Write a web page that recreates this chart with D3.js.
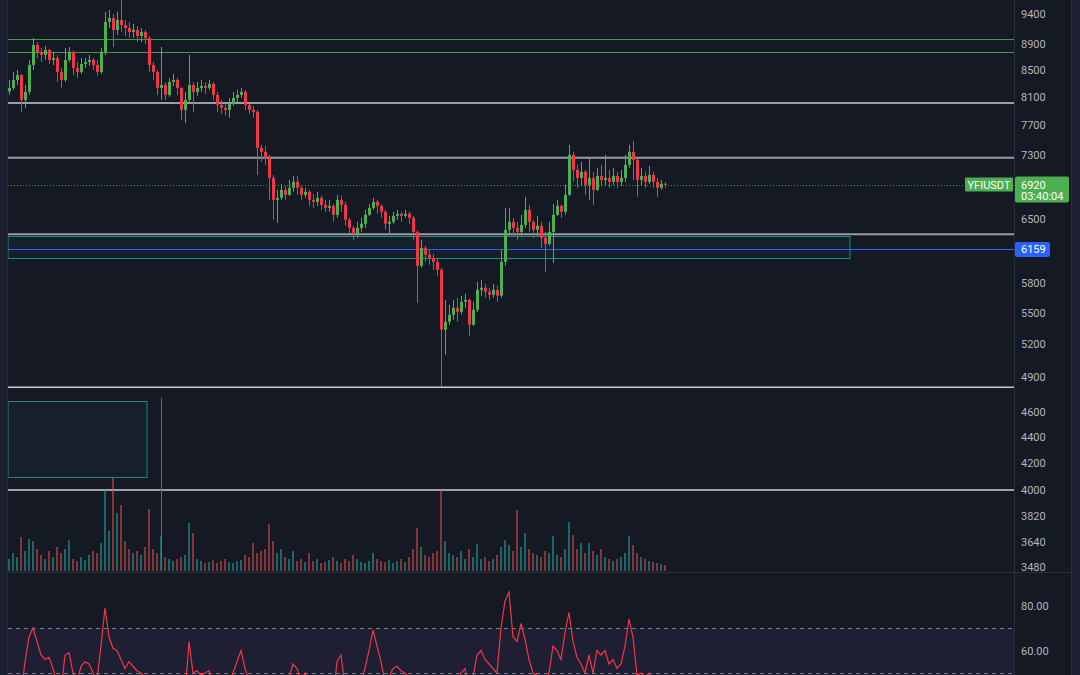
<!DOCTYPE html>
<html>
<head>
<meta charset="utf-8">
<script src="https://cdn.jsdelivr.net/npm/d3@7"></script>
<style>
  html, body { margin: 0; padding: 0; background: #151924; }
  svg { display: block; }
  text { font-family: Roboto, 'Liberation Sans', sans-serif; }
</style>
</head>
<body>
<div id="chart"></div>
<script>
// OHLC per bar, YFIUSDT
const candles = [
  [8180, 8350, 8129, 8232], [8232, 8471, 8202, 8350], [8350, 8501, 8276, 8425], [8425, 8440, 7885, 8056],
  [8056, 8276, 7942, 8173], [8173, 8655, 8129, 8578], [8578, 9004, 8501, 8891], [8891, 8939, 8686, 8781],
  [8781, 8843, 8624, 8733], [8733, 8875, 8655, 8812], [8812, 8830, 8593, 8655], [8655, 8781, 8578, 8686],
  [8686, 8733, 8320, 8471], [8471, 8532, 8232, 8350], [8350, 8843, 8320, 8655], [8655, 8859, 8624, 8781],
  [8781, 8800, 8425, 8532], [8532, 8624, 8380, 8471], [8471, 8686, 8440, 8593], [8593, 8686, 8532, 8624],
  [8624, 8733, 8563, 8655], [8655, 8686, 8501, 8578], [8578, 8655, 8410, 8471], [8471, 8843, 8440, 8781],
  [8781, 9434, 8733, 9266], [9266, 9468, 9167, 9333], [9333, 9400, 8859, 9134], [9134, 9434, 9053, 9299],
  [9299, 9639, 9101, 9216], [9216, 9299, 9036, 9167], [9167, 9266, 9004, 9101], [9101, 9233, 9004, 9134],
  [9134, 9200, 8939, 9036], [9036, 9167, 8939, 9101], [9101, 9134, 8907, 9004], [9004, 9036, 8471, 8578],
  [8578, 8624, 8350, 8471], [8471, 8501, 8129, 8232], [8232, 8859, 8056, 8276], [8276, 8320, 8056, 8129],
  [8129, 8380, 8100, 8320], [8320, 8441, 8261, 8350], [8350, 8380, 8129, 8232], [8232, 8240, 7772, 7913],
  [7913, 8173, 7731, 8056], [8056, 8733, 8030, 8276], [8276, 8320, 7885, 8173], [8173, 8320, 8114, 8232],
  [8232, 8350, 8173, 8261], [8261, 8320, 8144, 8232], [8232, 8350, 8202, 8291], [8291, 8320, 8056, 8129],
  [8129, 8173, 7885, 7985], [7985, 8056, 7857, 7942], [7942, 7999, 7828, 7913], [7913, 8085, 7800, 7999],
  [7999, 8173, 7970, 8085], [8085, 8202, 8027, 8129], [8129, 8232, 8085, 8173], [8173, 8202, 7913, 7985],
  [7985, 7999, 7857, 7913], [7913, 7970, 7800, 7885], [7885, 7913, 7042, 7391], [7391, 7431, 7208, 7339],
  [7339, 7418, 7170, 7261], [7261, 7300, 6733, 7004], [7004, 7042, 6496, 6733], [6733, 6855, 6461, 6757],
  [6757, 6929, 6733, 6855], [6855, 6904, 6733, 6794], [6794, 6979, 6782, 6880], [6880, 7029, 6831, 6954],
  [6954, 7029, 6794, 6880], [6880, 6904, 6733, 6794], [6794, 6880, 6757, 6831], [6831, 6855, 6661, 6733],
  [6733, 6806, 6637, 6709], [6709, 6831, 6661, 6757], [6757, 6782, 6613, 6673], [6673, 6733, 6590, 6637],
  [6637, 6733, 6590, 6661], [6661, 6685, 6473, 6555], [6555, 6794, 6519, 6733], [6733, 6782, 6590, 6673],
  [6673, 6709, 6427, 6496], [6496, 6519, 6335, 6403], [6403, 6427, 6267, 6335], [6335, 6473, 6290, 6403],
  [6403, 6519, 6357, 6450], [6450, 6613, 6403, 6555], [6555, 6685, 6543, 6637], [6637, 6757, 6613, 6709],
  [6709, 6733, 6566, 6661], [6661, 6673, 6519, 6590], [6590, 6613, 6380, 6450], [6450, 6543, 6324, 6473],
  [6473, 6590, 6450, 6543], [6543, 6613, 6496, 6566], [6566, 6590, 6473, 6543], [6543, 6613, 6519, 6566],
  [6566, 6590, 6450, 6519], [6519, 6543, 6267, 6357], [6357, 6370, 5597, 5981], [5981, 6267, 5960, 6177],
  [6177, 6200, 6024, 6101], [6101, 6155, 5992, 6068], [6068, 6111, 5938, 6024], [6024, 6068, 5875, 5938],
  [5938, 5960, 4814, 5332], [5332, 5627, 5098, 5410], [5410, 5577, 5381, 5478], [5478, 5627, 5429, 5547],
  [5547, 5648, 5410, 5507], [5507, 5668, 5480, 5607], [5607, 5688, 5547, 5627], [5627, 5640, 5275, 5381],
  [5381, 5607, 5370, 5527], [5527, 5812, 5507, 5729], [5729, 5833, 5668, 5750], [5750, 5791, 5648, 5709],
  [5709, 5750, 5627, 5678], [5678, 5791, 5648, 5729], [5729, 5771, 5607, 5668], [5668, 6155, 5648, 6024],
  [6024, 6637, 5981, 6380], [6380, 6637, 6312, 6473], [6473, 6519, 6312, 6403], [6403, 6473, 6267, 6357],
  [6357, 6555, 6312, 6438], [6438, 6770, 6403, 6613], [6613, 6673, 6357, 6473], [6473, 6496, 6290, 6380],
  [6380, 6543, 6312, 6427], [6427, 6473, 6177, 6290], [6290, 6357, 5917, 6222], [6222, 6473, 6200, 6357],
  [6357, 6685, 6013, 6555], [6555, 6733, 6543, 6661], [6661, 6673, 6519, 6590], [6590, 6917, 6555, 6794],
  [6794, 7431, 6780, 7300], [7300, 7339, 6954, 7105], [7105, 7170, 6880, 7004], [7004, 7208, 6904, 7080],
  [7080, 7105, 6794, 6917], [6917, 7274, 6733, 7004], [7004, 7080, 6673, 6855], [6855, 7131, 6840, 7029],
  [7029, 7170, 6904, 6979], [6979, 7300, 6904, 7004], [7004, 7105, 6880, 6954], [6954, 7131, 6917, 7029],
  [7029, 7080, 6880, 6954], [6954, 7105, 6904, 7004], [7004, 7300, 6954, 7170], [7170, 7431, 7131, 7339],
  [7339, 7485, 6979, 7234], [7234, 7250, 6770, 6979], [6979, 7131, 6904, 7029], [7029, 7080, 6880, 6954],
  [6954, 7157, 6929, 7042], [7042, 7080, 6880, 6954], [6954, 7004, 6770, 6880], [6880, 6979, 6855, 6929],
  [6929, 6954, 6880, 6920]
]

// volume per bar (K)
const volumes = [
  12, 18, 14, 34, 20, 32, 30, 22, 16, 12, 20, 14, 24, 18, 22, 31, 12, 10, 14, 11,
  16, 20, 18, 28, 81, 40, 93, 58, 66, 30, 22, 18, 20, 16, 24, 62, 22, 18, 35, 14,
  12, 10, 12, 14, 16, 48, 38, 12, 10, 8, 9, 11, 8, 10, 12, 9, 8, 10, 11, 16,
  14, 28, 18, 20, 22, 47, 30, 18, 22, 14, 12, 20, 10, 12, 9, 18, 10, 12, 8, 9,
  11, 14, 10, 8, 12, 10, 16, 12, 9, 8, 10, 18, 12, 10, 9, 11, 8, 10, 12, 9,
  14, 22, 43, 24, 16, 14, 18, 20, 81, 30, 18, 16, 14, 20, 12, 22, 14, 27, 12, 14,
  10, 12, 16, 24, 31, 26, 20, 61, 24, 38, 22, 18, 16, 14, 20, 18, 35, 16, 14, 22,
  49, 36, 22, 28, 18, 28, 20, 16, 22, 14, 12, 10, 12, 14, 18, 35, 26, 18, 14, 12,
  10, 9, 8, 7, 6
]

// RSI(14) per bar
const rsi = [
  47, 49, 44, 40, 55, 66, 70, 64, 58, 56, 57, 52, 45, 42, 58, 59, 50, 46, 53, 55,
  54, 50, 47, 62, 79, 66, 61, 60, 56, 52, 55, 53, 51, 50, 48, 38, 36, 34, 38, 36,
  42, 44, 40, 34, 40, 64, 50, 51, 49, 50, 51, 46, 40, 38, 36, 44, 50, 55, 60, 52,
  47, 44, 28, 30, 28, 24, 22, 30, 38, 42, 48, 54, 52, 46, 50, 44, 42, 46, 40, 38,
  42, 38, 55, 58, 44, 38, 34, 42, 46, 52, 60, 69, 62, 55, 46, 48, 52, 53, 51, 50,
  48, 40, 24, 36, 34, 33, 32, 30, 18, 26, 30, 36, 42, 50, 52, 40, 48, 58, 60, 56,
  54, 52, 50, 70, 82, 86, 66, 64, 72, 65, 56, 50, 49, 44, 42, 50, 62, 60, 56, 68,
  77, 64, 57, 54, 50, 58, 50, 60, 58, 60, 54, 56, 52, 54, 62, 74, 66, 49, 50, 48,
  50, 46, 44, 46, 47
]

const priceTicks = [9400, 8900, 8500, 8100, 7700, 7300, 6500, 5800, 5500, 5200, 4900, 4600, 4400, 4200, 4000, 3820, 3640, 3480]
const rsiTicks = [80, 60]
const rsiBands = [70, 50]

// drawn levels
const greenLevels = [8985, 8777]
const greyLevels = [8013, 7261, 6329, 4810, 4000]
const blueLevel = 6159
const lastPrice = 6920
const lastTime = '03:40:04'
const symbol = 'YFIUSDT'
// zones: [fromBar, toBar, top, bottom]
const zones = [[-0.25, 210.25, 6306, 6063], [-0.25, 34.5, 4694, 4094]]
const markerBar = 38
const markerTop = 4720

const width = 1080
const height = 675
const plotLeft = 8
const plotRight = 1014
const priceBottom = 571
const rsiTop = 573

let svg = d3.select('#chart').append('svg')
  .attr('width', width)
  .attr('height', height)
  .attr('viewBox', '0 0 ' + width + ' ' + height)

svg.append('rect').attr('width', width).attr('height', height).attr('fill', '#151924')

let defs = svg.append('defs')
defs.append('clipPath').attr('id', 'clipPrice').append('rect')
  .attr('x', plotLeft).attr('y', 0).attr('width', plotRight - plotLeft).attr('height', priceBottom)
defs.append('clipPath').attr('id', 'clipRsi').append('rect')
  .attr('x', plotLeft).attr('y', rsiTop).attr('width', plotRight - plotLeft).attr('height', height - rsiTop)

// Scales
let x = d3.scaleLinear().domain([0, candles.length - 1]).range([9, 665])
let y = d3.scaleLog().domain([3458, 9639]).range([priceBottom, 0])
let yVol = d3.scaleLinear().domain([0, d3.max(volumes)]).range([priceBottom, 478])
let yRsi = d3.scaleLinear().domain([50, 80]).range([673, 605.5])

let price = svg.append('g').attr('clip-path', 'url(#clipPrice)')
let rsiPane = svg.append('g').attr('clip-path', 'url(#clipRsi)')

// Zones
price.selectAll('.zone').data(zones).enter().append('rect')
  .attr('class', 'zone')
  .attr('x', d => x(d[0]))
  .attr('y', d => Math.round(y(d[2])) + 0.5)
  .attr('width', d => x(d[1]) - x(d[0]))
  .attr('height', d => Math.round(y(d[3]) - y(d[2])))
  .attr('fill', 'rgba(34,171,148,0.05)')
  .attr('stroke', '#1f8a7a')
  .attr('stroke-width', 1)

// Horizontal levels
price.selectAll('.green').data(greenLevels).enter().append('line')
  .attr('x1', plotLeft).attr('x2', plotRight)
  .attr('y1', d => Math.round(y(d)) + 0.5).attr('y2', d => Math.round(y(d)) + 0.5)
  .attr('stroke', '#3f9c43').attr('stroke-width', 1)

price.selectAll('.grey').data(greyLevels).enter().append('line')
  .attr('x1', plotLeft).attr('x2', plotRight)
  .attr('y1', d => y(d)).attr('y2', d => y(d))
  .attr('stroke', (d, i) => (i === 1 || i === 2) ? '#9a9da6' : '#c9ccd3')
  .attr('stroke-width', (d, i) => (i === 1 || i === 2) ? 2 : 1.5)

price.append('line')
  .attr('x1', plotLeft).attr('x2', plotRight)
  .attr('y1', Math.round(y(blueLevel)) + 0.5).attr('y2', Math.round(y(blueLevel)) + 0.5)
  .attr('stroke', '#2962ff').attr('stroke-width', 1)

// Last price dotted line
price.append('line')
  .attr('x1', plotLeft).attr('x2', plotRight)
  .attr('y1', Math.round(y(lastPrice)) + 0.5).attr('y2', Math.round(y(lastPrice)) + 0.5)
  .attr('stroke', '#3f9c43').attr('stroke-width', 1).attr('stroke-dasharray', '1,2')

// Volume
price.selectAll('.vol').data(volumes).enter().append('rect')
  .attr('class', 'vol')
  .attr('x', (d, i) => Math.round(x(i)) - 1)
  .attr('width', 2)
  .attr('y', d => yVol(d))
  .attr('height', d => priceBottom - yVol(d))
  .attr('fill', (d, i) => candles[i][3] >= candles[i][0] ? 'rgba(38,166,154,0.55)' : 'rgba(239,83,80,0.5)')

// vertical marker
price.append('line')
  .attr('x1', Math.round(x(markerBar)) + 0.5).attr('x2', Math.round(x(markerBar)) + 0.5)
  .attr('y1', y(markerTop)).attr('y2', priceBottom)
  .attr('stroke', '#1f8a7a').attr('stroke-width', 1)

// Candles
let up = '#4caf50'
let down = '#f23645'
let bars = price.selectAll('.candle').data(candles).enter().append('g').attr('class', 'candle')
bars.append('rect')
  .attr('x', (d, i) => Math.round(x(i)))
  .attr('width', 1)
  .attr('y', d => y(d[1]))
  .attr('height', d => Math.max(1, y(d[2]) - y(d[1])))
  .attr('fill', d => d[3] >= d[0] ? up : down)
bars.append('rect')
  .attr('x', (d, i) => Math.round(x(i)) - 1)
  .attr('width', 3)
  .attr('y', d => y(Math.max(d[0], d[3])))
  .attr('height', d => Math.max(1, Math.abs(y(d[0]) - y(d[3]))))
  .attr('fill', d => d[3] >= d[0] ? up : down)

// RSI pane
rsiPane.append('rect')
  .attr('x', plotLeft).attr('width', plotRight - plotLeft)
  .attr('y', yRsi(70)).attr('height', height - yRsi(70))
  .attr('fill', 'rgba(126,87,194,0.1)')
rsiPane.selectAll('.band').data(rsiBands).enter().append('line')
  .attr('x1', plotLeft).attr('x2', plotRight)
  .attr('y1', d => Math.round(yRsi(d)) + 0.5).attr('y2', d => Math.round(yRsi(d)) + 0.5)
  .attr('stroke', '#787b86').attr('stroke-width', 1).attr('stroke-dasharray', '4,4')
rsiPane.append('path')
  .datum(rsi)
  .attr('d', d3.line().x((d, i) => x(i)).y(d => yRsi(d)))
  .attr('fill', 'none')
  .attr('stroke', '#f23645')
  .attr('stroke-width', 1.2)

// Frame
svg.append('rect').attr('x', 0).attr('y', 0).attr('width', 7).attr('height', height).attr('fill', '#1c2030')
svg.append('line').attr('x1', 7.5).attr('x2', 7.5).attr('y1', 0).attr('y2', height).attr('stroke', '#2a2e39')
svg.append('rect').attr('x', 1071).attr('y', 0).attr('width', 9).attr('height', height).attr('fill', '#1c2030')
svg.append('line').attr('x1', plotRight + 0.5).attr('x2', plotRight + 0.5).attr('y1', 0).attr('y2', height)
  .attr('stroke', '#2a2e39')
svg.append('line').attr('x1', 1071.5).attr('x2', 1071.5).attr('y1', 0).attr('y2', height).attr('stroke', '#2a2e39')
svg.append('line').attr('x1', plotLeft).attr('x2', 1071).attr('y1', 572.5).attr('y2', 572.5).attr('stroke', '#2a2e39')

// Axes
let priceAxis = svg.append('g')
  .attr('transform', `translate(${plotRight},0)`)
  .call(d3.axisRight(y).tickValues(priceTicks).tickSize(0).tickPadding(7).tickFormat(d3.format('d')))
let rsiAxis = svg.append('g')
  .attr('transform', `translate(${plotRight},0)`)
  .call(d3.axisRight(yRsi).tickValues(rsiTicks).tickSize(0).tickPadding(7).tickFormat(d3.format('.2f')))
for (let ax of [priceAxis, rsiAxis]) {
  ax.select('.domain').remove()
  ax.selectAll('text').attr('fill', '#b2b5be').style('font-size', '11px')
    .style('font-family', 'Roboto, sans-serif')
}

// Price labels
let yl = y(lastPrice)
svg.append('rect').attr('x', 965).attr('y', yl - 7).attr('width', 48).attr('height', 14)
  .attr('rx', 1).attr('fill', '#4caf50')
svg.append('text').attr('x', 989).attr('y', yl + 4).attr('text-anchor', 'middle')
  .attr('fill', '#ffffff').style('font-size', '11px').text(symbol)
svg.append('rect').attr('x', plotRight + 1).attr('y', yl - 8).attr('width', 54).attr('height', 26)
  .attr('rx', 2).attr('fill', '#4caf50')
svg.append('text').attr('x', 1021).attr('y', yl + 4)
  .attr('fill', '#ffffff').style('font-size', '11px').text(d3.format('d')(lastPrice))
svg.append('text').attr('x', 1021).attr('y', yl + 15)
  .attr('fill', '#ffffff').style('font-size', '11px').text(lastTime)

let yb = y(blueLevel)
svg.append('rect').attr('x', plotRight + 1).attr('y', yb - 7.5).attr('width', 35).attr('height', 15)
  .attr('rx', 2).attr('fill', '#2962ff')
svg.append('text').attr('x', 1021).attr('y', yb + 4)
  .attr('fill', '#ffffff').style('font-size', '11px').text(d3.format('d')(blueLevel))
</script>
</body>
</html>
